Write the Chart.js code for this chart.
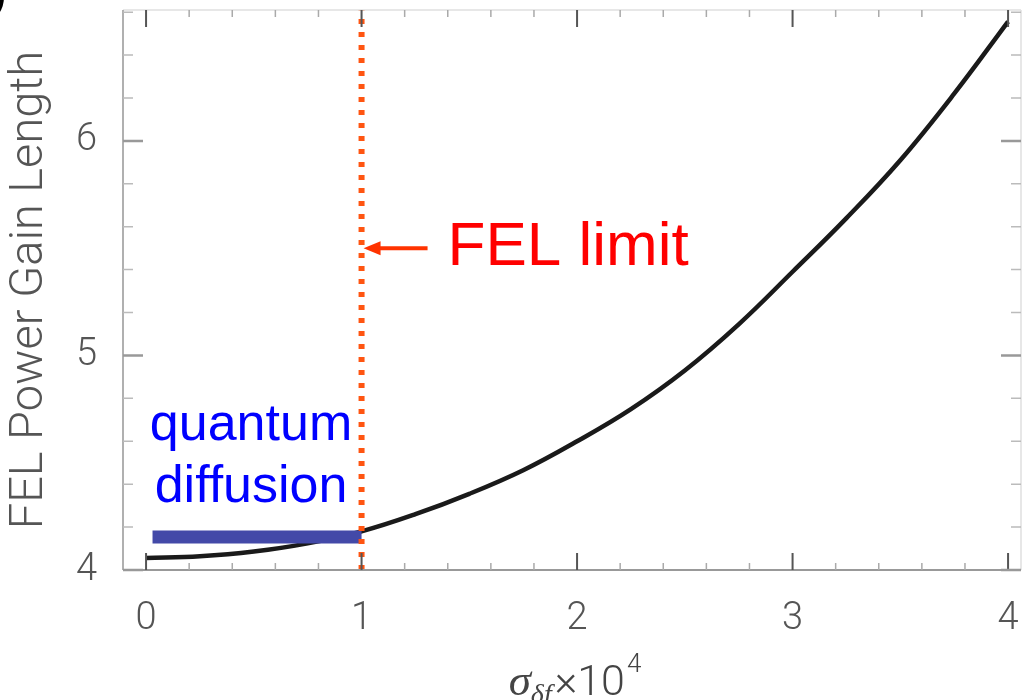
<!DOCTYPE html>
<html>
<head>
<meta charset="utf-8">
<script src="https://cdn.jsdelivr.net/npm/chart.js@4"></script>
<style>
  html, body { margin: 0; padding: 0; background: #fff; }
  #wrap { width: 1023px; height: 700px; position: relative; }
</style>
</head>
<body>
<div id="wrap"><canvas id="gain-chart"></canvas></div>
<script>
// energy spread (x 1e-4) vs. FEL power gain length
const spreadValues = [0, 0.25, 0.5, 0.75, 1, 1.25, 1.5, 1.75, 2, 2.25, 2.5, 2.75, 3, 3.25, 3.5, 3.75, 4];
const gainLength = [4.056, 4.064, 4.086, 4.124, 4.18, 4.26, 4.355, 4.465, 4.60, 4.75, 4.93, 5.145, 5.39, 5.64, 5.91, 6.22, 6.556];

// quantum diffusion band and FEL limit marker
const diffusionX = [0.03, 1.0];
const diffusionY = [4.154, 4.154];
const limitX = [1, 1];
const limitY = [4, 6.61];
const limitArrowY = 5.5;

const xTickLabels = [0, 1, 2, 3, 4];
const yTickLabels = [4, 5, 6];

const yTitle = 'FEL Power Gain Length';
const limitLabel = 'FEL limit';
const diffusionLabel = ['quantum', 'diffusion'];

const xMin = -0.107, xMax = 4.06;
const yMin = 4, yMax = 6.61;

const toPoints = (xs, ys) => xs.map((x, i) => ({ x: x, y: ys[i] }));

// inward ticks on all four sides plus the box frame
const frameTicks = {
    id: 'frameTicks',
    afterDraw(chart) {
        const ctx = chart.ctx;
        const a = chart.chartArea;
        const xs = chart.scales.x, ys = chart.scales.y;
        ctx.save();
        ctx.lineCap = 'butt';

        ctx.strokeStyle = '#e0e0e0';
        ctx.lineWidth = 1.5;
        ctx.beginPath();
        ctx.moveTo(a.left, a.top); ctx.lineTo(a.right, a.top);
        ctx.moveTo(a.right, a.top); ctx.lineTo(a.right, a.bottom);
        ctx.stroke();

        ctx.strokeStyle = '#b0b0b0';
        ctx.lineWidth = 2;
        ctx.beginPath();
        ctx.moveTo(a.left, a.top); ctx.lineTo(a.left, a.bottom);
        ctx.stroke();
        ctx.strokeStyle = '#999';
        ctx.beginPath();
        ctx.moveTo(a.left, a.bottom); ctx.lineTo(a.right, a.bottom);
        ctx.stroke();

        for (let i = 0; i <= 20; i++) {
            const v = i * 0.2;
            const px = xs.getPixelForValue(v);
            const major = i % 5 === 0;
            ctx.strokeStyle = major ? '#555' : '#aaa';
            ctx.lineWidth = major ? 2 : 1.5;
            const len = major ? 17 : 7;
            ctx.beginPath();
            ctx.moveTo(px, a.bottom); ctx.lineTo(px, a.bottom - len);
            ctx.moveTo(px, a.top); ctx.lineTo(px, a.top + len);
            ctx.stroke();
        }
        for (let i = 0; i <= 13; i++) {
            const v = yMin + i * 0.2;
            const py = ys.getPixelForValue(v);
            const major = i % 5 === 0;
            ctx.strokeStyle = major ? '#999' : '#bbb';
            ctx.lineWidth = major ? 2.5 : 1.5;
            const len = major ? 20 : 10;
            ctx.beginPath();
            ctx.moveTo(a.left, py); ctx.lineTo(a.left + len, py);
            ctx.moveTo(a.right, py); ctx.lineTo(a.right - len, py);
            ctx.stroke();
        }
        ctx.restore();
    }
};

// text annotations, arrow and the x axis title with sub/superscripts
const annotations = {
    id: 'annotations',
    afterDraw(chart) {
        const ctx = chart.ctx;
        const xs = chart.scales.x, ys = chart.scales.y;
        const a = chart.chartArea;
        ctx.save();

        // FEL limit arrow
        const tipX = xs.getPixelForValue(limitX[0]) + 2;
        const tipY = ys.getPixelForValue(limitArrowY);
        ctx.strokeStyle = '#ff3300';
        ctx.fillStyle = '#ff3300';
        ctx.lineWidth = 4;
        ctx.beginPath();
        ctx.moveTo(tipX + 12, tipY); ctx.lineTo(tipX + 64, tipY);
        ctx.stroke();
        ctx.beginPath();
        ctx.moveTo(tipX, tipY);
        ctx.lineTo(tipX + 17, tipY - 7);
        ctx.lineTo(tipX + 17, tipY + 7);
        ctx.closePath();
        ctx.fill();

        ctx.fillStyle = '#ff0000';
        ctx.font = '62px "Liberation Sans", Arial, sans-serif';
        ctx.textAlign = 'left';
        ctx.textBaseline = 'alphabetic';
        ctx.fillText(limitLabel, tipX + 84, tipY + 17);

        // quantum diffusion label above the bar
        const barY = ys.getPixelForValue(diffusionY[0]);
        const barMid = (xs.getPixelForValue(diffusionX[0]) + xs.getPixelForValue(diffusionX[1])) / 2;
        ctx.fillStyle = '#0000ff';
        ctx.font = '52px "Liberation Sans", Arial, sans-serif';
        ctx.textAlign = 'center';
        ctx.fillText(diffusionLabel[0], barMid - 6, barY - 97);
        ctx.fillText(diffusionLabel[1], barMid - 6, barY - 35);

        // x title: sigma_{delta f} x 10^4
        const parts = [
            { t: '\u03c3', f: 'italic 45px "Liberation Serif", serif', dy: 0 },
            { t: '\u03b4f', f: 'italic 28px "Liberation Serif", serif', dy: 8 },
            { t: '\u00d710', f: '300 43px Roboto, "Liberation Sans", sans-serif', dy: 0, gap: 3 },
            { t: '4', f: '300 26px Roboto, "Liberation Sans", sans-serif', dy: -23, gap: 2 }
        ];
        let total = 0;
        parts.forEach(p => {
            ctx.font = p.f;
            p.w = ctx.measureText(p.t).width;
            total += p.w + (p.gap || 0);
        });
        let cx = (a.left + a.right) / 2 + 3 - total / 2;
        const base = 695;
        ctx.fillStyle = '#444';
        ctx.textAlign = 'left';
        parts.forEach(p => {
            cx += p.gap || 0;
            ctx.font = p.f;
            ctx.fillText(p.t, cx, base + p.dy);
            cx += p.w;
        });

        // panel letter edge in the corner
        ctx.fillStyle = '#000';
        ctx.font = 'bold 40px "Liberation Sans", Arial, sans-serif';
        ctx.textAlign = 'right';
        ctx.fillText(')', 6, 7);
        ctx.restore();
    }
};

const tickFont = { family: 'Roboto, "Liberation Sans", sans-serif', size: 38, weight: 300 };

new Chart(document.getElementById('gain-chart'), {
    type: 'line',
    data: {
        datasets: [
            {
                label: 'FEL limit',
                data: toPoints(limitX, limitY),
                borderColor: '#ff5511',
                borderWidth: 6,
                borderDash: [5, 8],
                borderCapStyle: 'butt',
                pointRadius: 0,
                order: 0
            },
            {
                label: 'quantum diffusion',
                data: toPoints(diffusionX, diffusionY),
                borderColor: '#4349a8',
                borderWidth: 13,
                borderCapStyle: 'butt',
                pointRadius: 0,
                order: 1
            },
            {
                label: 'gain length',
                data: toPoints(spreadValues, gainLength),
                borderColor: '#1a1a1a',
                borderWidth: 4.5,
                tension: 0.4,
                pointRadius: 0,
                order: 2
            }
        ]
    },
    options: {
        responsive: true,
        maintainAspectRatio: false,
        animation: false,
        layout: { padding: { top: 10, right: 2, left: 0, bottom: 0 } },
        plugins: {
            legend: { display: false },
            tooltip: { enabled: false }
        },
        scales: {
            x: {
                type: 'linear',
                min: xMin,
                max: xMax,
                afterFit(scale) {
                    scale.height = 130;
                    scale.paddingLeft = 0;
                    scale.paddingRight = 0;
                },
                afterBuildTicks(scale) { scale.ticks = xTickLabels.map(v => ({ value: v })); },
                ticks: { color: '#555', font: tickFont, padding: 27, maxRotation: 0 },
                grid: { display: false, drawTicks: false },
                border: { display: false }
            },
            y: {
                min: yMin,
                max: yMax,
                afterFit(scale) {
                    scale.width = 123;
                    scale.paddingTop = 0;
                    scale.paddingBottom = 0;
                },
                afterBuildTicks(scale) { scale.ticks = yTickLabels.map(v => ({ value: v })); },
                ticks: { color: '#555', font: tickFont, padding: 26 },
                grid: { display: false, drawTicks: false },
                border: { display: false },
                title: {
                    display: true,
                    text: yTitle,
                    color: '#555',
                    font: { family: 'Roboto, "Liberation Sans", sans-serif', size: 47, weight: 300 },
                    padding: { top: 2, bottom: 0 }
                }
            }
        }
    },
    plugins: [frameTicks, annotations]
});
</script>
</body>
</html>
